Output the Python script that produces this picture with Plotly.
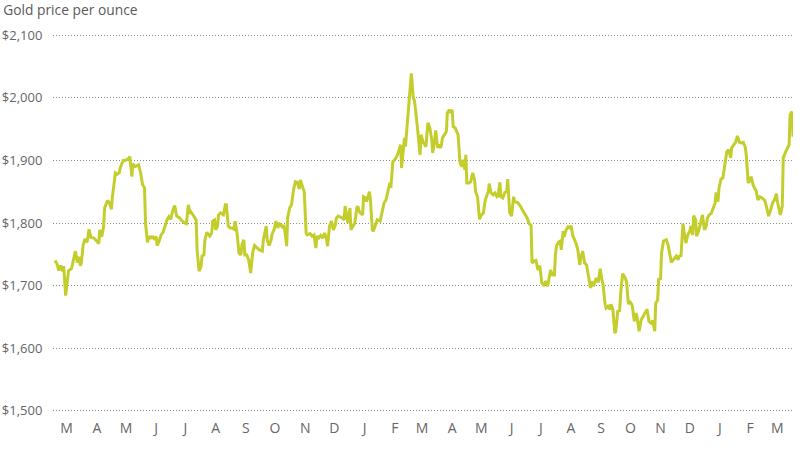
import datetime as dt
import plotly.graph_objects as go

start_date = "2021-03-05"
end_offset = 760

day_offset = [2,4,6,8,10,11,13,15,16,19,21,23,25,27,28,29,31,33,35,37,39,42,45,47,48,50,52,53,56,58,60,61,63,64,66,68,69,72,74,77,79,81,82,84,88,90,92,94,95,97,99,101,102,104,106,107,109,111,113,115,117,119,121,123,125,127,130,132,135,137,139,141,142,145,147,148,150,152,153,155,156,158,160,161,163,164,166,167,169,170,172,175,177,178,180,182,184,186,187,189,191,193,194,196,197,199,201,203,205,207,210,212,215,216,219,220,222,224,225,227,229,231,232,234,236,237,238,240,241,243,245,247,249,251,253,254,255,258,260,261,264,266,268,270,271,273,275,277,279,281,282,284,286,288,290,291,293,295,297,299,300,302,303,305,306,308,310,312,313,315,318,319,321,322,325,326,328,329,331,333,336,338,340,342,344,346,347,349,351,353,355,357,358,359,361,362,363,365,367,368,370,371,372,374,375,377,378,380,382,383,385,387,389,390,392,393,395,396,398,399,400,402,404,405,407,408,410,411,413,416,417,418,420,421,423,424,425,427,429,431,433,434,436,437,438,440,442,444,445,447,448,450,452,454,456,457,459,460,462,464,466,467,469,471,473,474,477,480,482,484,487,489,491,492,494,496,498,500,502,504,506,508,511,513,515,516,517,519,521,522,524,525,527,529,531,532,534,537,539,541,542,544,546,548,550,552,553,555,557,558,560,562,564,565,567,568,570,572,573,575,577,578,580,582,583,585,587,589,591,592,594,595,597,599,600,602,604,606,608,610,611,612,614,616,618,619,621,622,624,625,627,630,632,634,635,638,640,642,643,645,647,648,650,652,654,655,657,658,660,661,663,665,667,669,671,672,674,676,677,680,681,683,684,686,688,690,692,694,696,697,699,701,703,705,707,709,711,712,714,715,717,719,721,722,724,726,728,731,732,734,735,737,739,741,743,744,746,747,749,750,752,754,756,757,759,760]

price = [1740,1735,1724,1732,1723,1731,1684,1710,1724,1727,1739,1755,1737,1746,1732,1735,1765,1775,1769,1790,1777,1776,1771,1767,1789,1778,1794,1824,1836,1832,1822,1842,1866,1880,1878,1880,1888,1900,1900,1902,1906,1874,1895,1890,1893,1880,1861,1856,1800,1769,1779,1775,1779,1775,1778,1764,1771,1781,1785,1797,1805,1810,1806,1820,1828,1811,1808,1804,1800,1799,1829,1815,1817,1810,1805,1757,1723,1730,1747,1749,1773,1785,1781,1779,1784,1803,1805,1789,1795,1813,1816,1813,1829,1829,1795,1792,1792,1790,1803,1784,1752,1749,1765,1773,1749,1749,1741,1720,1752,1764,1760,1757,1755,1773,1795,1773,1764,1773,1782,1789,1803,1792,1800,1797,1792,1797,1789,1763,1808,1824,1829,1853,1866,1865,1854,1869,1864,1850,1784,1781,1783,1779,1781,1760,1779,1776,1780,1776,1784,1773,1763,1795,1803,1789,1797,1808,1811,1810,1808,1805,1827,1808,1800,1824,1789,1795,1800,1824,1827,1817,1813,1842,1840,1834,1850,1837,1789,1787,1797,1805,1803,1819,1832,1837,1853,1864,1856,1898,1901,1906,1914,1925,1888,1904,1936,1922,1941,1976,2008,2039,2000,1997,1986,1962,1941,1909,1941,1930,1925,1922,1960,1952,1933,1912,1933,1948,1920,1925,1920,1925,1936,1941,1946,1976,1981,1976,1981,1954,1952,1941,1922,1896,1890,1901,1885,1909,1864,1864,1866,1880,1869,1850,1842,1824,1806,1813,1816,1837,1842,1850,1863,1848,1845,1848,1842,1843,1865,1842,1840,1849,1850,1870,1817,1811,1842,1834,1833,1827,1821,1816,1808,1799,1796,1736,1739,1740,1725,1732,1704,1701,1707,1699,1725,1717,1717,1749,1763,1769,1771,1757,1787,1778,1789,1794,1792,1796,1779,1768,1757,1733,1744,1755,1736,1733,1717,1696,1707,1699,1708,1712,1705,1727,1707,1701,1670,1664,1667,1662,1670,1662,1624,1627,1659,1660,1688,1719,1714,1707,1670,1675,1671,1667,1643,1656,1648,1627,1645,1650,1656,1662,1654,1643,1640,1644,1627,1672,1677,1710,1711,1752,1771,1773,1763,1747,1737,1743,1747,1741,1747,1748,1799,1787,1768,1781,1787,1795,1781,1812,1805,1779,1787,1799,1813,1789,1795,1808,1813,1815,1819,1832,1849,1834,1856,1870,1872,1890,1914,1917,1904,1920,1925,1929,1939,1929,1928,1929,1921,1909,1864,1866,1874,1861,1854,1852,1837,1842,1840,1836,1831,1819,1811,1821,1832,1837,1847,1834,1816,1813,1827,1904,1912,1918,1925,1973,1978,1938]

tick_months = ["2021-03","2021-04","2021-05","2021-06","2021-07","2021-08","2021-09","2021-10","2021-11","2021-12",
               "2022-01","2022-02","2022-03","2022-04","2022-05","2022-06","2022-07","2022-08","2022-09","2022-10",
               "2022-11","2022-12","2023-01","2023-02","2023-03"]
tick_labels = ["M","A","M","J","J","A","S","O","N","D","J","F","M","A","M","J","J","A","S","O","N","D","J","F","M"]
y_ticks = [1500, 1600, 1700, 1800, 1900, 2000, 2100]
title_text = "Gold price per ounce"

d0 = dt.date.fromisoformat(start_date)
dates = [d0 + dt.timedelta(days=o) for o in day_offset]
tick_dates = [m + "-19" for m in tick_months]
x_end = d0 + dt.timedelta(days=end_offset)
y_text = ["$" + format(v, ",") for v in y_ticks]

fig = go.Figure()
fig.add_trace(go.Scatter(x=dates, y=price, mode="lines",
                         line=dict(color="#c3ce2d", width=3),
                         hoverinfo="x+y", showlegend=False))

grey = "#666666"
fig.update_layout(
    width=800, height=454,
    margin=dict(l=53, r=7, t=34, b=42),
    paper_bgcolor="white", plot_bgcolor="white",
    font=dict(family="Open Sans", color=grey),
    title=dict(text=title_text, x=0.004, xanchor="left", xref="container",
               y=1 - 10 / 454, yanchor="middle", yref="container",
               font=dict(size=13.8, color="#5a5a5a", family="Open Sans")),
    xaxis=dict(type="date", range=[d0, x_end], tickvals=tick_dates, ticktext=tick_labels,
               showgrid=False, zeroline=False, showline=False, automargin=False,
               ticks="outside", ticklen=3, tickcolor="rgba(0,0,0,0)",
               tickfont=dict(size=14, color=grey, family="Open Sans")),
    yaxis=dict(range=[1498, 2102], tickvals=y_ticks, ticktext=y_text,
               showgrid=True, gridcolor="#8a8a8a", gridwidth=1, griddash="1px,2px",
               zeroline=False, showline=False, automargin=False,
               ticks="outside", ticklen=7, tickcolor="rgba(0,0,0,0)",
               tickfont=dict(size=13, color=grey, family="Open Sans")),
)

fig.write_html("out.html", config={"displayModeBar": False},
               post_script="document.body.style.margin='0';")
